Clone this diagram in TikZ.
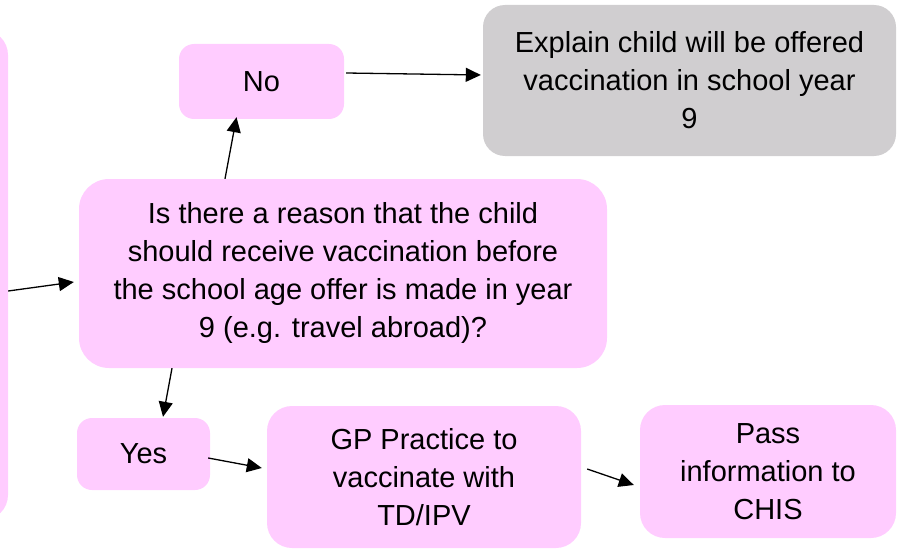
\documentclass[tikz,border=0pt]{standalone}
\usepackage{fontspec}
\setmainfont{Liberation Sans}
\usetikzlibrary{arrows.meta}
\definecolor{pinkfill}{RGB}{255,204,255}
\definecolor{grayfill}{RGB}{208,206,208}
\tikzset{
  box/.style={draw=none, fill=pinkfill, rounded corners=#1, inner sep=0pt, align=center,
    font=\fontsize{29}{38}\selectfont},
  box/.default=15pt,
  graybox/.style={box=22pt, fill=grayfill},
  conn/.style={line width=1.3pt, -{Triangle[length=15pt,width=14pt]}}
}
\begin{document}
\begin{tikzpicture}[x=1pt,y=-1pt]
\useasboundingbox (0,0) rectangle (898,551);
\clip (0,0) rectangle (898,551);
% left box (partly off picture)
\node[box=25pt, minimum width=208pt, minimum height=490pt] (left) at (-96,275) {};
\node[box=15pt, minimum width=165pt, minimum height=75pt] (no) at (261.5,81.5) {No};
\node[graybox, minimum width=413pt, minimum height=151pt] (gray) at (689.5,80.5)
  {Explain child will be offered\\vaccination in school year\\9};
\node[box=30pt, minimum width=528pt, minimum height=189pt] (q) at (343,273.5)
  {Is there a reason that the child\\should receive vaccination before\\the school age offer is made in year\\9 (e.g. travel abroad)?};
\node[box=15pt, minimum width=133pt, minimum height=72pt] (yes) at (143.5,454) {Yes};
\node[box=25pt, minimum width=314pt, minimum height=142pt] (gp) at (424,477)
  {GP Practice to\\vaccinate with\\TD/IPV};
\node[box=25pt, minimum width=256pt, minimum height=133pt] (pass) at (768,471.5)
  {Pass\\information to\\CHIS};
% connectors
\draw[conn] ([yshift=-16pt]left.east) -- ([xshift=-5pt,yshift=-8.5pt]q.west);
\draw[conn] ([xshift=-118pt]q.north) -- ([xshift=-25pt,yshift=2pt]no.south);
\draw[conn] ([xshift=2pt,yshift=8.5pt]no.east) -- ([xshift=-2pt,yshift=5.5pt]gray.west);
\draw[conn] ([xshift=-171pt]q.south) -- ([xshift=19.5pt,yshift=1pt]yes.north);
\draw[conn] ([xshift=-2pt,yshift=-4pt]yes.east) -- ([xshift=-5pt,yshift=9pt]gp.west);
\draw[conn] ([xshift=6pt,yshift=8pt]gp.east) -- ([xshift=-6pt,yshift=-13.5pt]pass.west);
\end{tikzpicture}
\end{document}
